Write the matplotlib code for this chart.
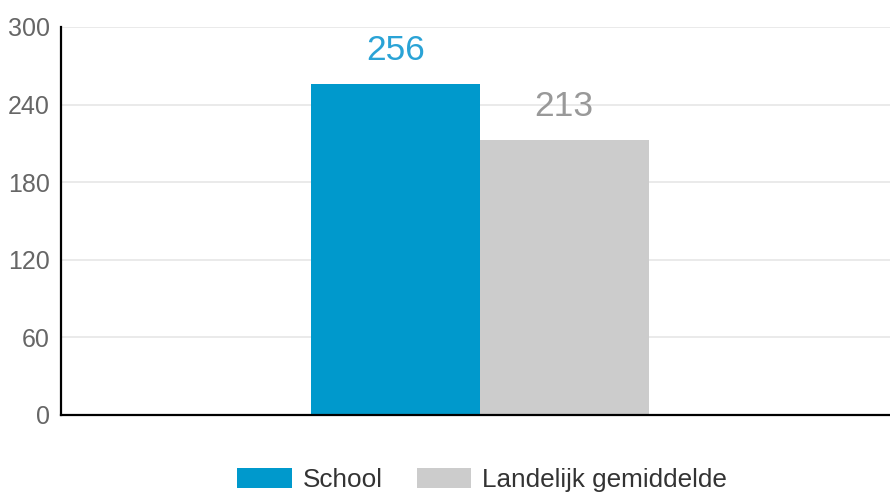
import matplotlib
matplotlib.use("Agg")
import matplotlib.pyplot as plt

series = ["School", "Landelijk gemiddelde"]
values = [256, 213]
colors = ["#0099CC", "#CCCCCC"]
label_colors = ["#2AA3D6", "#999999"]
yticks = [0, 60, 120, 180, 240, 300]

plt.rcParams['font.family'] = ['Liberation Sans', 'DejaVu Sans']

fig = plt.figure(figsize=(8.9, 4.95), dpi=100)
ax = fig.add_axes([61/890, 80/495, 829/890, 388/495])

offsets = [-0.5, 0.5]
for off, v, c, lc, name in zip(offsets, values, colors, label_colors, series):
    ax.bar(off, v, width=1.0, color=c, label=name, zorder=2)
    ax.annotate(str(v), (off, v), xytext=(0, 12), textcoords="offset points",
                ha="center", va="bottom", fontsize=25.5, color=lc)

ax.set_xlim(-2.48, 2.43)
ax.set_ylim(0, 300)
ax.set_yticks(yticks)
ax.set_xticks([])
ax.grid(axis="y", color="#E6E6E6", linewidth=1.2, zorder=0)
ax.tick_params(axis="y", length=0, pad=8, labelsize=18, labelcolor="#666666")
for s in ["top", "right"]:
    ax.spines[s].set_visible(False)
for s in ["left", "bottom"]:
    ax.spines[s].set_color("#000000")
    ax.spines[s].set_linewidth(1.6)

fig.legend(loc="center", bbox_to_anchor=(482/890, 1 - 480/495), ncol=2,
           frameon=False, fontsize=18.8, handlelength=2.1, handleheight=0.8,
           handletextpad=0.4, columnspacing=1.3, labelcolor="#333333")

fig.savefig("out.png", dpi=100)
